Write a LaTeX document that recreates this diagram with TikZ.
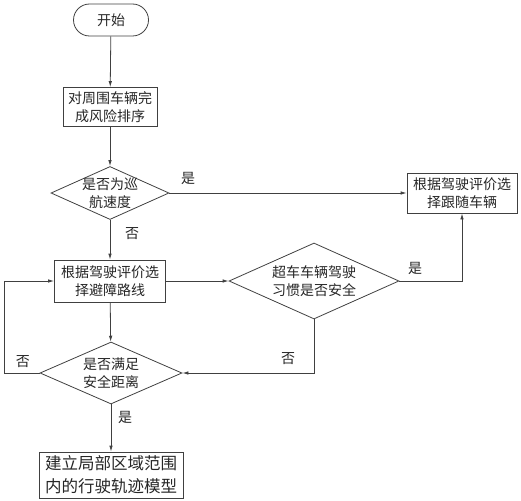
\documentclass[tikz,border=0pt]{standalone}
\usepackage{fontspec}
\newfontfamily\cjk{Noto Sans CJK SC}
\usetikzlibrary{shapes.geometric,arrows.meta}
\begin{document}
\begin{tikzpicture}[x=1pt,y=-1pt,
	wire/.style={draw=black!75,line width=0.8pt},
	arr/.style={wire,-{Latex[length=6pt,width=3.5pt]}},
	txt/.style={font=\cjk\fontsize{14}{18}\selectfont,text=black!85,align=center},
	proc/.style={rectangle,wire,txt,inner sep=0pt},
	term/.style={rectangle,rounded corners=16pt,wire,txt,inner sep=0pt},
	decision/.style={diamond,wire,inner sep=0pt}]
	\useasboundingbox (0,0) rectangle (521,500);
	\coordinate (loop) at (4,373);
	
	\node[term,minimum width=75pt,minimum height=32pt] (start) at (111,20) {开始};
	\node[proc,minimum width=94pt,minimum height=39pt] (risk) at (110,107) {对周围车辆完\\成风险排序};
	\node[decision,minimum width=118pt,minimum height=53pt,label={[txt]center:是否为巡\\航速度}] (cruise) at (110,193) {};
	\node[proc,minimum width=110pt,minimum height=40pt] (follow) at (462,193) {根据驾驶评价选\\择跟随车辆};
	\node[proc,minimum width=111pt,minimum height=42pt] (avoid) at (110,281) {根据驾驶评价选\\择避障路线};
	\node[decision,minimum width=170pt,minimum height=76pt,label={[txt]center:超车车辆驾驶\\习惯是否安全}] (habit) at (314,281) {};
	\node[decision,minimum width=142pt,minimum height=62pt,label={[txt]center:是否满足\\安全距离}] (dist) at (111,373) {};
	\node[proc,minimum width=144pt,minimum height=46pt,font=\cjk\fontsize{16.5}{23}\selectfont] (model) at (111,475) {建立局部区域范围\\内的行驶轨迹模型};
	
	\draw[arr] (start) -- (risk);
	\draw[arr] (risk) -- (cruise);
	\draw[arr] (cruise) -- (follow);
	\draw[arr] (cruise) -- (avoid);
	\draw[arr] (avoid) -- (habit);
	\draw[arr] (habit.east) -| (follow.south);
	\draw[arr] (habit.south) |- (dist.east);
	\draw[arr] (avoid) -- (dist);
	\draw[arr] (dist.west) -- (loop) |- (avoid.west);
	\draw[arr] (dist) -- (model);
	
	\node[txt] (yes1) at (188,178) {是};
	\node[txt] (no1) at (132,234) {否};
	\node[txt] (yes2) at (415,268) {是};
	\node[txt] (no2) at (288,359) {否};
	\node[txt] (no3) at (23,362) {否};
	\node[txt] (yes3) at (125,417) {是};
\end{tikzpicture}
\end{document}
